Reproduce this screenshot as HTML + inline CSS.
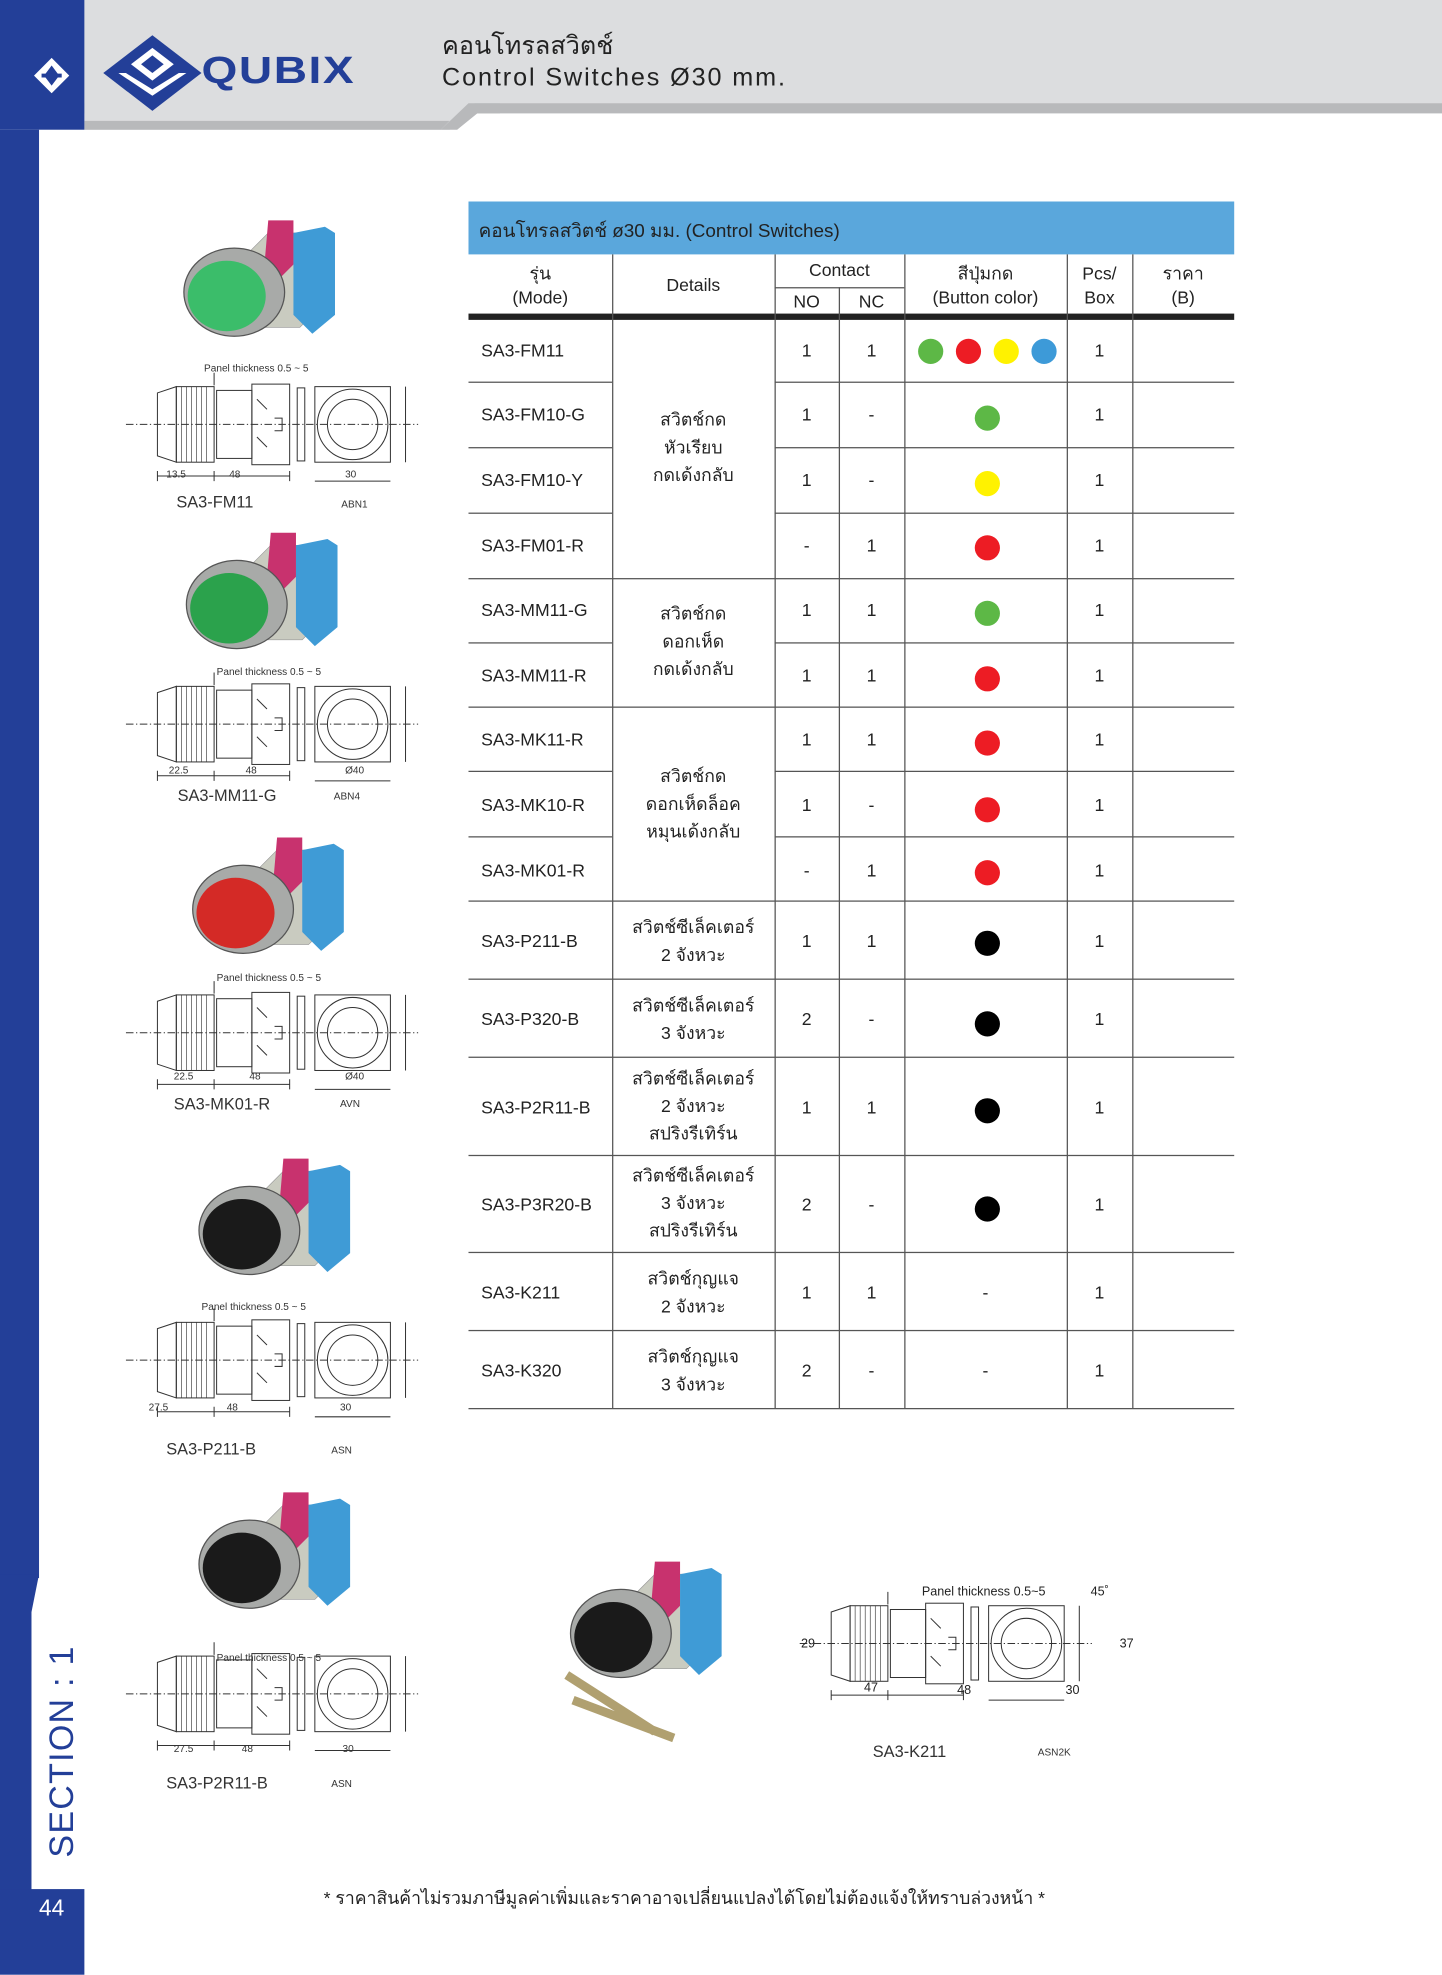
<!DOCTYPE html>
<html><head><meta charset="utf-8">
<style>
html,body{margin:0;padding:0;background:#fff;}
body{width:1442px;height:1975px;overflow:hidden;position:relative;}
#s{position:absolute;left:0;top:0;width:1145px;height:1568px;transform:scale(1.25939);transform-origin:0 0;font-family:"Liberation Sans","Noto Sans CJK SC",sans-serif;color:#222;}
.a{position:absolute;}
.t{position:absolute;font-size:14px;white-space:nowrap;}
.c{text-align:center;}
.hl{position:absolute;height:1px;background:#555;}
.vl{position:absolute;width:1px;background:#555;}
.dot{position:absolute;width:20px;height:20px;border-radius:50%;}
.cap{position:absolute;font-size:13px;color:#333;}
.sm{position:absolute;font-size:8px;color:#333;}
</style></head><body><div id="s">

<!-- header -->
<div class="a" style="left:67px;top:0;width:1078px;height:90px;background:#dcdddf"></div>
<div class="a" style="left:67px;top:82px;width:1078px;height:8px;background:#b8b9bb"></div>
<svg class="a" style="left:67px;top:80px" width="330" height="25"><polygon points="0,0 330,0 330,2 310,2 290,23 0,23" fill="#dcdddf"/><polygon points="0,16 290,16 283,23 0,23" fill="#b8b9bb"/><polygon points="283,23 305,2 330,2 330,10 312,10 296,23" fill="#b8b9bb"/></svg>
<div class="a" style="left:0;top:0;width:67px;height:103px;background:#233f98"></div>
<div class="a" style="left:0;top:103px;width:31px;height:1150px;background:#233f98"></div>
<svg class="a" style="left:0;top:1250px" width="40" height="30"><polygon points="0,0 31,0 25,30 0,30" fill="#233f98"/></svg>
<div class="a" style="left:0;top:1278px;width:25px;height:230px;background:#233f98"></div>
<div class="a" style="left:0;top:1500px;width:67px;height:68px;background:#233f98"></div>
<div class="a" style="left:34px;top:1475px;transform:rotate(-90deg);transform-origin:0 0;font-size:27px;color:#233f98;white-space:nowrap;letter-spacing:1px">SECTION : 1</div>
<div class="a" style="left:31px;top:1505px;font-size:18px;color:#fff">44</div>
<svg class="a" style="left:24px;top:44px" width="34" height="32" viewBox="0 0 34 32"><path d="M17 2 L31 16 L17 30 L3 16Z M17 8 L11 16 L17 24 L23 16Z" fill="#fff" fill-rule="evenodd"/><path d="M9 16h16" stroke="#233f98" stroke-width="3"/></svg>
<svg class="a" style="left:80px;top:26px" width="82" height="64" viewBox="0 0 82 64"><polygon points="41,2 80,32 41,62 2,32" fill="#233f98"/><polygon points="41,12 58,25 41,38 24,25" fill="#fff"/><polygon points="41,18 50,25 41,32 32,25" fill="#233f98"/><polygon points="14,32 41,50 68,32 62,32 41,45 20,32" fill="#fff"/></svg>
<div class="a" style="left:160px;top:40px;font-size:30px;font-weight:bold;color:#233f98;letter-spacing:1px;transform:scaleX(1.22);transform-origin:0 0">QUBIX</div>
<div class="a" style="left:351px;top:20px;font-size:20px;color:#222">คอนโทรลสวิตช์</div>
<div class="a" style="left:351px;top:51px;font-size:20px;color:#222;letter-spacing:1.5px">Control Switches Ø30 mm.</div>

<!-- table -->
<div class="a" style="left:372px;top:160px;width:608px;height:42px;background:#5aa7dc"></div>
<div class="t" style="left:380px;top:171px;font-size:15px">คอนโทรลสวิตช์ ø30 มม. (Control Switches)</div>
<div class="a" style="left:372px;top:249px;width:608px;height:5px;background:#222"></div>
<div class="vl" style="left:486px;top:202px;height:916px"></div>
<div class="vl" style="left:615px;top:202px;height:916px"></div>
<div class="vl" style="left:666px;top:228px;height:890px"></div>
<div class="vl" style="left:718px;top:202px;height:916px"></div>
<div class="vl" style="left:847px;top:202px;height:916px"></div>
<div class="vl" style="left:899px;top:202px;height:916px"></div>
<div class="hl" style="left:615px;top:228px;width:103px"></div>
<div class="t c" style="left:372px;top:208px;width:114px;line-height:19px">รุ่น<br>(Mode)</div>
<div class="t c" style="left:486px;top:218px;width:129px">Details</div>
<div class="t c" style="left:615px;top:206px;width:103px">Contact</div>
<div class="t c" style="left:615px;top:231px;width:51px">NO</div>
<div class="t c" style="left:666px;top:231px;width:52px">NC</div>
<div class="t c" style="left:718px;top:208px;width:129px;line-height:19px">สีปุ่มกด<br>(Button color)</div>
<div class="t c" style="left:847px;top:208px;width:52px;line-height:19px">Pcs/<br>Box</div>
<div class="t c" style="left:899px;top:208px;width:81px;line-height:19px">ราคา<br>(B)</div>

<!-- row lines -->
<div class="hl" style="left:372px;top:303px;width:114px"></div><div class="hl" style="left:615px;top:303px;width:365px"></div>
<div class="hl" style="left:372px;top:355px;width:114px"></div><div class="hl" style="left:615px;top:355px;width:365px"></div>
<div class="hl" style="left:372px;top:407px;width:114px"></div><div class="hl" style="left:615px;top:407px;width:365px"></div>
<div class="hl" style="left:372px;top:459px;width:608px"></div>
<div class="hl" style="left:372px;top:510px;width:114px"></div><div class="hl" style="left:615px;top:510px;width:365px"></div>
<div class="hl" style="left:372px;top:561px;width:608px"></div>
<div class="hl" style="left:372px;top:612px;width:114px"></div><div class="hl" style="left:615px;top:612px;width:365px"></div>
<div class="hl" style="left:372px;top:664px;width:114px"></div><div class="hl" style="left:615px;top:664px;width:365px"></div>
<div class="hl" style="left:372px;top:715px;width:608px"></div>
<div class="hl" style="left:372px;top:777px;width:608px"></div>
<div class="hl" style="left:372px;top:839px;width:608px"></div>
<div class="hl" style="left:372px;top:917px;width:608px"></div>
<div class="hl" style="left:372px;top:994px;width:608px"></div>
<div class="hl" style="left:372px;top:1056px;width:608px"></div>
<div class="hl" style="left:372px;top:1118px;width:608px"></div>

<!-- row text -->
<div class="t" style="left:382px;top:270px">SA3-FM11</div>
<div class="t" style="left:382px;top:321px">SA3-FM10-G</div>
<div class="t" style="left:382px;top:373px">SA3-FM10-Y</div>
<div class="t" style="left:382px;top:425px">SA3-FM01-R</div>
<div class="t" style="left:382px;top:476px">SA3-MM11-G</div>
<div class="t" style="left:382px;top:528px">SA3-MM11-R</div>
<div class="t" style="left:382px;top:579px">SA3-MK11-R</div>
<div class="t" style="left:382px;top:631px">SA3-MK10-R</div>
<div class="t" style="left:382px;top:683px">SA3-MK01-R</div>
<div class="t" style="left:382px;top:739px">SA3-P211-B</div>
<div class="t" style="left:382px;top:801px">SA3-P320-B</div>
<div class="t" style="left:382px;top:871px">SA3-P2R11-B</div>
<div class="t" style="left:382px;top:948px">SA3-P3R20-B</div>
<div class="t" style="left:382px;top:1018px">SA3-K211</div>
<div class="t" style="left:382px;top:1080px">SA3-K320</div>

<div class="t c" style="left:486px;top:322px;width:129px;line-height:22px">สวิตช์กด<br>หัวเรียบ<br>กดเด้งกลับ</div>
<div class="t c" style="left:486px;top:476px;width:129px;line-height:22px">สวิตช์กด<br>ดอกเห็ด<br>กดเด้งกลับ</div>
<div class="t c" style="left:486px;top:605px;width:129px;line-height:22px">สวิตช์กด<br>ดอกเห็ดล็อค<br>หมุนเด้งกลับ</div>
<div class="t c" style="left:486px;top:725px;width:129px;line-height:22px">สวิตช์ซีเล็คเตอร์<br>2 จังหวะ</div>
<div class="t c" style="left:486px;top:787px;width:129px;line-height:22px">สวิตช์ซีเล็คเตอร์<br>3 จังหวะ</div>
<div class="t c" style="left:486px;top:845px;width:129px;line-height:22px">สวิตช์ซีเล็คเตอร์<br>2 จังหวะ<br>สปริงรีเทิร์น</div>
<div class="t c" style="left:486px;top:922px;width:129px;line-height:22px">สวิตช์ซีเล็คเตอร์<br>3 จังหวะ<br>สปริงรีเทิร์น</div>
<div class="t c" style="left:486px;top:1004px;width:129px;line-height:22px">สวิตช์กุญแจ<br>2 จังหวะ</div>
<div class="t c" style="left:486px;top:1066px;width:129px;line-height:22px">สวิตช์กุญแจ<br>3 จังหวะ</div>

<!-- NO / NC / pcs -->
<div class="t c" style="left:615px;top:270px;width:51px">1</div><div class="t c" style="left:666px;top:270px;width:52px">1</div><div class="t c" style="left:847px;top:270px;width:52px">1</div>
<div class="t c" style="left:615px;top:321px;width:51px">1</div><div class="t c" style="left:666px;top:321px;width:52px">-</div><div class="t c" style="left:847px;top:321px;width:52px">1</div>
<div class="t c" style="left:615px;top:373px;width:51px">1</div><div class="t c" style="left:666px;top:373px;width:52px">-</div><div class="t c" style="left:847px;top:373px;width:52px">1</div>
<div class="t c" style="left:615px;top:425px;width:51px">-</div><div class="t c" style="left:666px;top:425px;width:52px">1</div><div class="t c" style="left:847px;top:425px;width:52px">1</div>
<div class="t c" style="left:615px;top:476px;width:51px">1</div><div class="t c" style="left:666px;top:476px;width:52px">1</div><div class="t c" style="left:847px;top:476px;width:52px">1</div>
<div class="t c" style="left:615px;top:528px;width:51px">1</div><div class="t c" style="left:666px;top:528px;width:52px">1</div><div class="t c" style="left:847px;top:528px;width:52px">1</div>
<div class="t c" style="left:615px;top:579px;width:51px">1</div><div class="t c" style="left:666px;top:579px;width:52px">1</div><div class="t c" style="left:847px;top:579px;width:52px">1</div>
<div class="t c" style="left:615px;top:631px;width:51px">1</div><div class="t c" style="left:666px;top:631px;width:52px">-</div><div class="t c" style="left:847px;top:631px;width:52px">1</div>
<div class="t c" style="left:615px;top:683px;width:51px">-</div><div class="t c" style="left:666px;top:683px;width:52px">1</div><div class="t c" style="left:847px;top:683px;width:52px">1</div>
<div class="t c" style="left:615px;top:739px;width:51px">1</div><div class="t c" style="left:666px;top:739px;width:52px">1</div><div class="t c" style="left:847px;top:739px;width:52px">1</div>
<div class="t c" style="left:615px;top:801px;width:51px">2</div><div class="t c" style="left:666px;top:801px;width:52px">-</div><div class="t c" style="left:847px;top:801px;width:52px">1</div>
<div class="t c" style="left:615px;top:871px;width:51px">1</div><div class="t c" style="left:666px;top:871px;width:52px">1</div><div class="t c" style="left:847px;top:871px;width:52px">1</div>
<div class="t c" style="left:615px;top:948px;width:51px">2</div><div class="t c" style="left:666px;top:948px;width:52px">-</div><div class="t c" style="left:847px;top:948px;width:52px">1</div>
<div class="t c" style="left:615px;top:1018px;width:51px">1</div><div class="t c" style="left:666px;top:1018px;width:52px">1</div><div class="t c" style="left:847px;top:1018px;width:52px">1</div><div class="t c" style="left:718px;top:1018px;width:129px">-</div>
<div class="t c" style="left:615px;top:1080px;width:51px">2</div><div class="t c" style="left:666px;top:1080px;width:52px">-</div><div class="t c" style="left:847px;top:1080px;width:52px">1</div><div class="t c" style="left:718px;top:1080px;width:129px">-</div>

<!-- dots -->
<div class="dot" style="left:729px;top:269px;background:#5db846"></div>
<div class="dot" style="left:759px;top:269px;background:#ed1c24"></div>
<div class="dot" style="left:789px;top:269px;background:#fff200"></div>
<div class="dot" style="left:819px;top:269px;background:#3d9ad8"></div>
<div class="dot" style="left:774px;top:322px;background:#5db846"></div>
<div class="dot" style="left:774px;top:374px;background:#fff200"></div>
<div class="dot" style="left:774px;top:425px;background:#ed1c24"></div>
<div class="dot" style="left:774px;top:477px;background:#5db846"></div>
<div class="dot" style="left:774px;top:529px;background:#ed1c24"></div>
<div class="dot" style="left:774px;top:580px;background:#ed1c24"></div>
<div class="dot" style="left:774px;top:633px;background:#ed1c24"></div>
<div class="dot" style="left:774px;top:683px;background:#ed1c24"></div>
<div class="dot" style="left:774px;top:739px;background:#000"></div>
<div class="dot" style="left:774px;top:803px;background:#000"></div>
<div class="dot" style="left:774px;top:872px;background:#000"></div>
<div class="dot" style="left:774px;top:950px;background:#000"></div>

<!-- drawings -->
<svg class="a" style="left:0;top:0" width="1145" height="1568">
<defs>
<g id="ph">
 <polygon points="55,35 75,15 120,15 120,70 100,90 55,90" fill="#c9cbc0" stroke="#999" stroke-width="0.5"/>
 <polygon points="75,5 95,5 95,40 80,55 72,40" fill="#c8326e"/>
 <polygon points="95,15 120,10 128,15 128,80 110,95 95,80" fill="#3f9bd6"/>
 <ellipse cx="48" cy="62" rx="40" ry="35" fill="#a8aaa8" stroke="#555"/>
 <ellipse cx="42" cy="65" rx="31" ry="28" fill="currentColor"/>
</g>
<g id="sd" fill="none" stroke="#333" stroke-width="0.8">
 <line x1="0" y1="45" x2="232" y2="45" stroke-dasharray="6,2,1,2"/>
 <path d="M25 20 L40 15 L40 75 L25 70Z"/>
 <rect x="40" y="15" width="30" height="60"/>
 <path d="M44 15v60M48 15v60M52 15v60M56 15v60M60 15v60M64 15v60" stroke-width="0.5"/>
 <rect x="72" y="18" width="28" height="54"/>
 <rect x="100" y="13" width="30" height="64"/>
 <rect x="136" y="16" width="6" height="58"/>
 <path d="M104 25l8 8M104 55l8 8M118 40h6v10h-6"/>
 <path d="M25 86h105M25 82v8M70 82v8M130 82v8M70 4v10"/>
 <rect x="150" y="15" width="60" height="60"/>
 <circle cx="180" cy="45" r="28"/><circle cx="180" cy="45" r="20"/>
 <path d="M150 90h60M222 15v60"/>
</g>
</defs>
<g color="#3bbd6a"><use href="#ph" x="138" y="170"/></g>
<g color="#2ba24c"><use href="#ph" x="140" y="418"/></g>
<g color="#d42a26"><use href="#ph" x="145" y="660"/></g>
<g color="#1a1a1a"><use href="#ph" x="150" y="915"/></g>
<g color="#1a1a1a"><use href="#ph" x="150" y="1180"/></g>
<g color="#1a1a1a"><use href="#ph" x="445" y="1235"/></g>
<path d="M450 1330 l70 45 M455 1350 l80 30" stroke="#b0a070" stroke-width="7"/>
<use href="#sd" x="100" y="292"/>
<use href="#sd" x="100" y="530"/>
<use href="#sd" x="100" y="775"/>
<use href="#sd" x="100" y="1035"/>
<use href="#sd" x="100" y="1300"/>
<use href="#sd" x="635" y="1260"/>
</svg>
<div class="sm" style="left:162px;top:288px">Panel thickness 0.5 ~ 5</div>
<div class="sm" style="left:132px;top:372px">13.5</div><div class="sm" style="left:182px;top:372px">48</div><div class="sm" style="left:274px;top:372px">30</div>
<div class="sm" style="left:172px;top:529px">Panel thickness 0.5 ~ 5</div>
<div class="sm" style="left:134px;top:607px">22.5</div><div class="sm" style="left:195px;top:607px">48</div><div class="sm" style="left:274px;top:607px">Ø40</div>
<div class="sm" style="left:172px;top:772px">Panel thickness 0.5 ~ 5</div>
<div class="sm" style="left:138px;top:850px">22.5</div><div class="sm" style="left:198px;top:850px">48</div><div class="sm" style="left:274px;top:850px">Ø40</div>
<div class="sm" style="left:160px;top:1033px">Panel thickness 0.5 ~ 5</div>
<div class="sm" style="left:118px;top:1113px">27.5</div><div class="sm" style="left:180px;top:1113px">48</div><div class="sm" style="left:270px;top:1113px">30</div>
<div class="sm" style="left:172px;top:1312px">Panel thickness 0.5 ~ 5</div>
<div class="sm" style="left:138px;top:1384px">27.5</div><div class="sm" style="left:192px;top:1384px">48</div><div class="sm" style="left:272px;top:1384px">30</div>
<div class="a" style="left:732px;top:1259px;font-size:10px">Panel thickness 0.5~5</div>
<div class="a" style="left:866px;top:1259px;font-size:10px">45˚</div>
<div class="a" style="left:686px;top:1335px;font-size:10px">47</div><div class="a" style="left:760px;top:1337px;font-size:10px">48</div><div class="a" style="left:846px;top:1337px;font-size:10px">30</div>
<div class="a" style="left:636px;top:1300px;font-size:10px">29</div><div class="a" style="left:889px;top:1300px;font-size:10px">37</div>

<div class="cap" style="left:140px;top:391px">SA3-FM11</div><div class="sm" style="left:271px;top:396px">ABN1</div>
<div class="cap" style="left:141px;top:624px">SA3-MM11-G</div><div class="sm" style="left:265px;top:628px">ABN4</div>
<div class="cap" style="left:138px;top:869px">SA3-MK01-R</div><div class="sm" style="left:270px;top:872px">AVN</div>
<div class="cap" style="left:132px;top:1143px">SA3-P211-B</div><div class="sm" style="left:263px;top:1147px">ASN</div>
<div class="cap" style="left:132px;top:1408px">SA3-P2R11-B</div><div class="sm" style="left:263px;top:1412px">ASN</div>
<div class="cap" style="left:693px;top:1383px">SA3-K211</div><div class="sm" style="left:824px;top:1387px">ASN2K</div>

<div class="a" style="left:257px;top:1497px;font-size:14px;color:#222;white-space:nowrap">* ราคาสินค้าไม่รวมภาษีมูลค่าเพิ่มและราคาอาจเปลี่ยนแปลงได้โดยไม่ต้องแจ้งให้ทราบล่วงหน้า *</div>
</div></body></html>
